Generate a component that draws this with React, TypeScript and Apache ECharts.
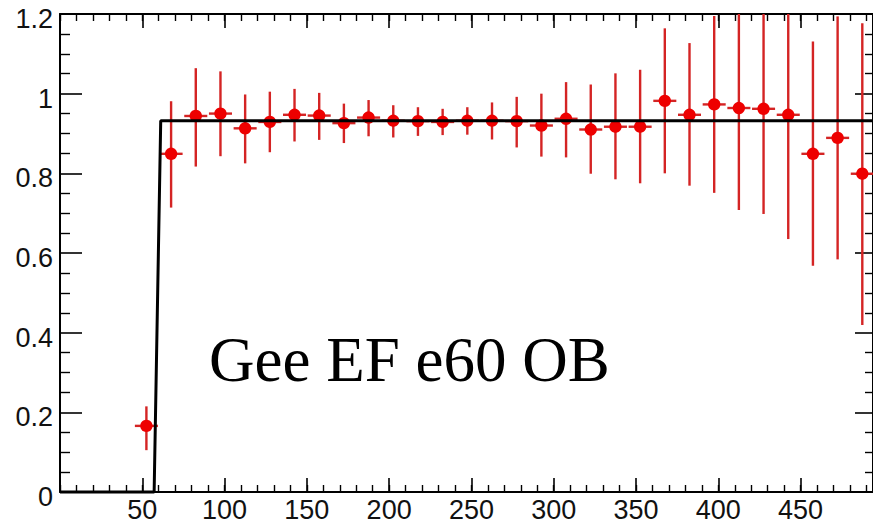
import React, { useEffect, useRef } from 'react';
import * as echarts from 'echarts';

// Bin centres (GeV) of the efficiency histogram
const binCenters = [
  52.5, 67.5, 82.5, 97.5, 112.5, 127.5, 142.5, 157.5, 172.5, 187.5,
  202.5, 217.5, 232.5, 247.5, 262.5, 277.5, 292.5, 307.5, 322.5, 337.5,
  352.5, 367.5, 382.5, 397.5, 412.5, 427.5, 442.5, 457.5, 472.5, 487.5,
];
// Efficiency values
const efficiency = [
  0.166, 0.849, 0.944, 0.950, 0.913, 0.929, 0.947, 0.945, 0.926, 0.940,
  0.932, 0.931, 0.929, 0.932, 0.932, 0.931, 0.920, 0.937, 0.910, 0.917,
  0.917, 0.982, 0.947, 0.973, 0.964, 0.962, 0.947, 0.849, 0.889, 0.799,
];
// Lower ends of the error bars
const errLow = [
  0.105, 0.714, 0.817, 0.843, 0.825, 0.853, 0.880, 0.884, 0.876, 0.893,
  0.890, 0.894, 0.896, 0.897, 0.885, 0.865, 0.842, 0.840, 0.799, 0.785,
  0.775, 0.800, 0.769, 0.751, 0.708, 0.698, 0.635, 0.568, 0.584, 0.419,
];
// Upper ends of the error bars
const errHigh = [
  0.215, 0.981, 1.064, 1.056, 0.998, 1.005, 1.012, 1.002, 0.975, 0.984,
  0.971, 0.966, 0.962, 0.966, 0.978, 0.992, 1.000, 1.029, 1.023, 1.051,
  1.060, 1.164, 1.127, 1.195, 1.220, 1.226, 1.259, 1.131, 1.194, 1.177,
];
const binHalfWidth = 7;

// Fitted turn-on curve (black)
const fitX = [0, 57.2, 61.2, 494];
const fitY = [0, 0, 0.932, 0.932];

const xMin = 0;
const xMax = 494;
const xMajor = 50;
const xMinor = 10;
const yMin = 0;
const yMax = 1.2;
const yMajor = 0.2;

const annotation = 'Gee EF e60 OB';

const SANS = '"Liberation Sans", Arial, Helvetica, sans-serif';
const SERIF = '"Liberation Serif", "Times New Roman", Times, serif';

export default function App() {
  const ref = useRef<HTMLDivElement>(null);

  useEffect(() => {
    if (!ref.current) return;
    const chart = echarts.init(ref.current, undefined, { renderer: 'svg' });

    const gridBox = { left: 60, right: 0, top: 14, bottom: 33 };
    const axisLineStyle = { color: '#000', width: 2 };
    const majorTickStyle = { color: '#000', width: 1.6 };
    const minorTickStyle = { color: '#000', width: 1.4 };

    const pointData = binCenters.map((x, i) => [x, efficiency[i], errLow[i], errHigh[i]]);
    const fitData = fitX.map((x, i) => [x, fitY[i]]);

    const option: any = {
      animation: false,
      backgroundColor: '#ffffff',
      grid: [{ ...gridBox }, { ...gridBox }, { ...gridBox }, { ...gridBox }],
      xAxis: [
        {
          type: 'value', gridIndex: 0, position: 'bottom',
          min: xMin, max: xMax, interval: xMajor,
          axisLine: { show: true, onZero: false, lineStyle: axisLineStyle },
          axisTick: { show: true, inside: true, length: 14, lineStyle: majorTickStyle },
          axisLabel: {
            show: true, showMinLabel: false, showMaxLabel: false, margin: 4,
            fontSize: 27, fontFamily: SANS, color: '#111',
          },
          splitLine: { show: false },
        },
        {
          type: 'value', gridIndex: 1, position: 'top',
          min: xMin, max: xMax, interval: xMajor,
          axisLine: { show: true, onZero: false, lineStyle: axisLineStyle },
          axisTick: { show: true, inside: true, length: 14, lineStyle: majorTickStyle },
          axisLabel: { show: false },
          splitLine: { show: false },
        },
        {
          type: 'value', gridIndex: 2, position: 'bottom',
          min: xMin, max: xMax, interval: xMinor,
          axisLine: { show: false, onZero: false },
          axisTick: { show: true, inside: true, length: 7, lineStyle: minorTickStyle },
          axisLabel: { show: false },
          splitLine: { show: false },
        },
        {
          type: 'value', gridIndex: 3, position: 'top',
          min: xMin, max: xMax, interval: xMinor,
          axisLine: { show: false, onZero: false },
          axisTick: { show: true, inside: true, length: 7, lineStyle: minorTickStyle },
          axisLabel: { show: false },
          splitLine: { show: false },
        },
      ],
      yAxis: [
        {
          type: 'value', gridIndex: 0, position: 'left',
          min: yMin, max: yMax, interval: yMajor,
          axisLine: { show: true, onZero: false, lineStyle: axisLineStyle },
          axisTick: { show: true, inside: true, length: 22, lineStyle: majorTickStyle },
          minorTick: { show: true, splitNumber: 4, length: 10, lineStyle: minorTickStyle },
          axisLabel: {
            show: true, margin: 7, fontSize: 27, fontFamily: SANS, color: '#111',
            formatter: (v: number) => '{a|' + v + '}',
            rich: { a: { fontSize: 27, fontFamily: SANS, color: '#111', padding: [10, 0, 0, 0] } },
          },
          splitLine: { show: false },
          minorSplitLine: { show: false },
        },
        {
          type: 'value', gridIndex: 1, position: 'right',
          min: yMin, max: yMax, interval: yMajor,
          axisLine: { show: true, onZero: false, lineStyle: axisLineStyle },
          axisTick: { show: true, inside: true, length: 18, lineStyle: majorTickStyle },
          minorTick: { show: true, splitNumber: 4, length: 8, lineStyle: minorTickStyle },
          axisLabel: { show: false },
          splitLine: { show: false },
        },
        { type: 'value', gridIndex: 2, min: yMin, max: yMax, show: false },
        { type: 'value', gridIndex: 3, min: yMin, max: yMax, show: false },
      ],
      series: [
        {
          type: 'custom',
          xAxisIndex: 0,
          yAxisIndex: 0,
          clip: true,
          z: 2,
          encode: { x: 0, y: 1 },
          data: pointData,
          renderItem: (params: any, api: any) => {
            const x = api.value(0);
            const y = api.value(1);
            const lo = api.value(2);
            const hi = api.value(3);
            const c = api.coord([x, y]);
            const pLo = api.coord([x, lo]);
            const pHi = api.coord([x, hi]);
            const pL = api.coord([x - binHalfWidth, y]);
            const pR = api.coord([x + binHalfWidth, y]);
            const barStyle = { stroke: '#d42424', lineWidth: 2.4 };
            return {
              type: 'group',
              children: [
                { type: 'line', shape: { x1: pLo[0], y1: pLo[1], x2: pHi[0], y2: pHi[1] }, style: barStyle },
                { type: 'line', shape: { x1: pL[0], y1: c[1], x2: pR[0], y2: c[1] }, style: barStyle },
                { type: 'circle', shape: { cx: c[0], cy: c[1], r: 6.2 }, style: { fill: '#ee0000' } },
              ],
            };
          },
        },
        {
          type: 'line',
          xAxisIndex: 0,
          yAxisIndex: 0,
          z: 3,
          data: fitData,
          showSymbol: false,
          symbol: 'none',
          lineStyle: { color: '#000', width: 3 },
          clip: false,
        },
      ],
      graphic: [
        {
          type: 'text',
          left: 209,
          top: 328,
          style: { text: annotation, fontFamily: SERIF, fontSize: 63, fill: '#000' },
        },
      ],
    };

    chart.setOption(option);
    return () => {
      chart.dispose();
    };
  }, []);

  return (
    <div
      ref={ref}
      style={{ position: 'fixed', left: 0, top: 0, width: 873, height: 525, background: '#fff' }}
    />
  );
}
